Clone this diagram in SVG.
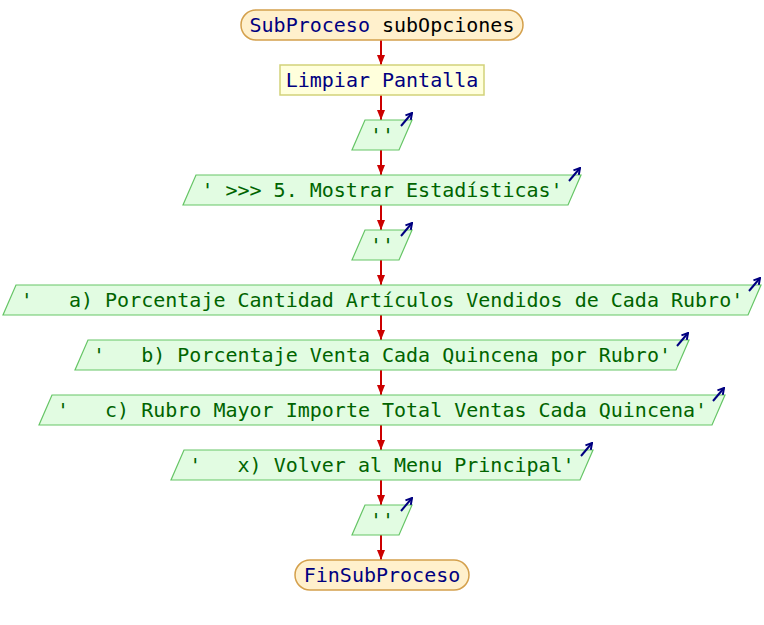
<svg xmlns="http://www.w3.org/2000/svg" width="764" height="625" viewBox="0 0 764 625">
<defs>
<marker id="ah" markerWidth="10" markerHeight="8" refX="10" refY="4" orient="auto" markerUnits="userSpaceOnUse"><path d="M0,0 L10,4 L0,8 Z" fill="#cc0000"/></marker>
<marker id="oh" markerWidth="8" markerHeight="8" refX="7" refY="4" orient="auto" markerUnits="userSpaceOnUse"><path d="M1,0.5 L7,4 L1,7.5" fill="none" stroke="#000080" stroke-width="2"/></marker>
<style>
text{font-family:"DejaVu Sans Mono","Liberation Mono",monospace;font-size:20px;}
.term{fill:#fff0cc;stroke:#d4a04c;stroke-width:1.5;}
.proc{fill:#ffffdc;stroke:#d2d27a;stroke-width:1.5;}
.io{fill:#e2fce2;stroke:#66c566;stroke-width:1.2;}
.kw{fill:#000080;}
.id{fill:#000000;}
.str{fill:#006400;}
.out{stroke:#000080;stroke-width:2;fill:none;marker-end:url(#oh);}
.conn line{stroke:#cc0000;stroke-width:2;marker-end:url(#ah);}
</style>
</defs>
<g id="connectors" class="conn">
<line x1="381" y1="40" x2="381" y2="65"/>
<line x1="381" y1="95" x2="381" y2="120"/>
<line x1="381" y1="150" x2="381" y2="175"/>
<line x1="381" y1="205" x2="381" y2="230"/>
<line x1="381" y1="260" x2="381" y2="285"/>
<line x1="381" y1="315" x2="381" y2="340"/>
<line x1="381" y1="370" x2="381" y2="395"/>
<line x1="381" y1="425" x2="381" y2="450"/>
<line x1="381" y1="480" x2="381" y2="505"/>
<line x1="381" y1="535" x2="381" y2="560"/>
</g>
<g id="start">
<rect class="term" x="241" y="10" width="282" height="30" rx="15" ry="15"/>
<text x="382" y="31.5" text-anchor="middle"><tspan class="kw">SubProceso</tspan><tspan class="id"> subOpciones</tspan></text>
</g>
<g id="limpiar">
<rect class="proc" x="280" y="65" width="204" height="30"/>
<text class="kw" x="382" y="86.5" text-anchor="middle">Limpiar Pantalla</text>
</g>
<g id="out1">
<polygon class="io" points="365,120 412,120 399,150 352,150"/>
<text class="str" x="382" y="141.5" text-anchor="middle">''</text>
<line class="out" x1="401" y1="126" x2="412" y2="113"/>
</g>
<g id="out2">
<polygon class="io" points="196,175 581,175 568,205 183,205"/>
<text class="str" x="382" y="196.5" text-anchor="middle">' &gt;&gt;&gt; 5. Mostrar Estadísticas'</text>
<line class="out" x1="569" y1="181" x2="580" y2="168"/>
</g>
<g id="out3">
<polygon class="io" points="365,230 412,230 399,260 352,260"/>
<text class="str" x="382" y="251.5" text-anchor="middle">''</text>
<line class="out" x1="401" y1="236" x2="412" y2="223"/>
</g>
<g id="out4">
<polygon class="io" points="16,285 761,285 748,315 3,315"/>
<text class="str" x="382" y="306.5" text-anchor="middle" xml:space="preserve">'   a) Porcentaje Cantidad Artículos Vendidos de Cada Rubro'</text>
<line class="out" x1="749" y1="291" x2="760" y2="278"/>
</g>
<g id="out5">
<polygon class="io" points="88,340 689,340 676,370 75,370"/>
<text class="str" x="382" y="361.5" text-anchor="middle" xml:space="preserve">'   b) Porcentaje Venta Cada Quincena por Rubro'</text>
<line class="out" x1="677" y1="346" x2="688" y2="333"/>
</g>
<g id="out6">
<polygon class="io" points="52,395 725,395 712,425 39,425"/>
<text class="str" x="382" y="416.5" text-anchor="middle" xml:space="preserve">'   c) Rubro Mayor Importe Total Ventas Cada Quincena'</text>
<line class="out" x1="713" y1="401" x2="724" y2="388"/>
</g>
<g id="out7">
<polygon class="io" points="184,450 593,450 580,480 171,480"/>
<text class="str" x="382" y="471.5" text-anchor="middle" xml:space="preserve">'   x) Volver al Menu Principal'</text>
<line class="out" x1="581" y1="456" x2="592" y2="443"/>
</g>
<g id="out8">
<polygon class="io" points="365,505 412,505 399,535 352,535"/>
<text class="str" x="382" y="526.5" text-anchor="middle">''</text>
<line class="out" x1="401" y1="511" x2="412" y2="498"/>
</g>
<g id="end">
<rect class="term" x="295" y="560" width="174" height="30" rx="15" ry="15"/>
<text class="kw" x="382" y="581.5" text-anchor="middle">FinSubProceso</text>
</g>
</svg>
